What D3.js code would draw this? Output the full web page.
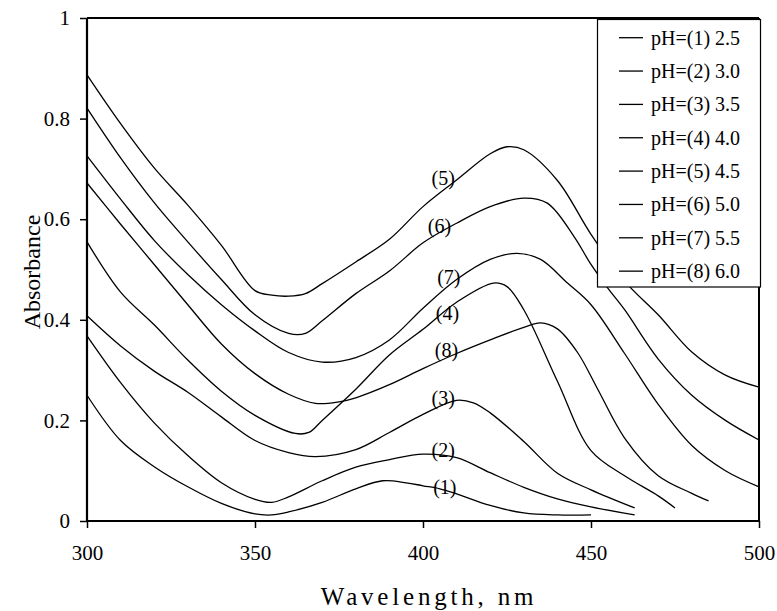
<!DOCTYPE html>
<html><head><meta charset="utf-8">
<script src="https://cdn.jsdelivr.net/npm/d3@7"></script>
<style>body{margin:0;background:#fff}svg{display:block}</style>
</head><body><svg id="c" width="777" height="611"></svg>
<script>
// ---- data ----
const seriesNames = ["pH=(1) 2.5","pH=(2) 3.0","pH=(3) 3.5","pH=(4) 4.0","pH=(5) 4.5","pH=(6) 5.0","pH=(7) 5.5","pH=(8) 6.0"];
const curveTags = ["(1)","(2)","(3)","(4)","(5)","(6)","(7)","(8)"];

const wl1 = [300,310,320,330,340,350,355,360,370,380,388,395,400,405,410,420,430,440,450];
const ab1 = [0.25,0.16,0.108,0.068,0.035,0.014,0.012,0.018,0.037,0.064,0.08,0.076,0.07,0.064,0.054,0.031,0.016,0.012,0.012];

const wl2 = [300,310,320,330,340,350,355,360,370,380,390,400,410,420,430,440,450,463];
const ab2 = [0.368,0.275,0.195,0.13,0.076,0.043,0.037,0.048,0.08,0.107,0.122,0.133,0.126,0.096,0.067,0.044,0.028,0.012];

const wl3 = [300,310,320,330,340,350,360,368,380,390,400,410,415,420,430,440,450,463];
const ab3 = [0.408,0.348,0.298,0.256,0.207,0.16,0.136,0.128,0.142,0.176,0.212,0.24,0.235,0.215,0.158,0.095,0.062,0.026];

const wl4 = [300,310,320,330,340,350,362,366,370,380,390,400,410,421,425,430,440,450,460,470,475];
const ab4 = [0.555,0.455,0.39,0.32,0.258,0.21,0.174,0.176,0.2,0.262,0.33,0.381,0.435,0.473,0.466,0.42,0.278,0.14,0.09,0.05,0.026];

const wl5 = [300,310,320,330,340,350,355,360,365,370,380,390,400,410,420,425,430,440,450,460,470,480,490,500];
const ab5 = [0.887,0.79,0.702,0.628,0.548,0.458,0.449,0.447,0.452,0.472,0.515,0.56,0.625,0.678,0.73,0.744,0.738,0.677,0.57,0.477,0.41,0.336,0.29,0.266];

const wl6 = [300,310,320,330,340,350,360,365,370,380,390,400,410,420,430,437,445,450,455,460,470,480,490,500];
const ab6 = [0.821,0.722,0.633,0.555,0.48,0.41,0.373,0.373,0.398,0.452,0.497,0.553,0.592,0.625,0.642,0.632,0.565,0.51,0.463,0.42,0.322,0.25,0.2,0.161];

const wl7 = [300,310,320,330,340,350,360,370,380,390,400,410,420,428,435,443,450,460,470,480,490,500];
const ab7 = [0.726,0.64,0.558,0.49,0.43,0.378,0.335,0.316,0.325,0.36,0.423,0.48,0.52,0.532,0.52,0.473,0.43,0.333,0.232,0.15,0.1,0.068];

const wl8 = [300,310,320,330,340,350,360,368,375,380,390,400,410,420,430,435,440,446,452,460,470,480,485];
const ab8 = [0.672,0.59,0.51,0.43,0.352,0.293,0.252,0.234,0.237,0.245,0.271,0.303,0.333,0.36,0.385,0.394,0.382,0.335,0.262,0.165,0.09,0.055,0.04];

// curve tag anchors (wavelength, absorbance)
const tagWl  = [406.5,406,406,407.3,406,404.9,407.7,407];
const tagAbs = [0.068,0.141,0.244,0.413,0.681,0.586,0.486,0.34];

const xTicks = [300,350,400,450,500];
const yTicks = [0,0.2,0.4,0.6,0.8,1];
const yTickLabels = ["0","0.2","0.4","0.6","0.8","1"];

const wls = [wl1,wl2,wl3,wl4,wl5,wl6,wl7,wl8];
const abs = [ab1,ab2,ab3,ab4,ab5,ab6,ab7,ab8];

// ---- drawing ----
const FONT = "Liberation Serif, Times New Roman, serif";
const svg = d3.select("#c");
const L = 87, R = 759, T = 18, B = 521;
const x = d3.scaleLinear().domain([300,500]).range([L,R]);
const y = d3.scaleLinear().domain([0,1]).range([B,T]);

const line = d3.line().x(d=>x(d[0])).y(d=>y(d[1])).curve(d3.curveCatmullRom.alpha(0.5));

const gC = svg.append("g");
wls.forEach((w,i)=>{
  gC.append("path")
    .attr("d", line(w.map((v,j)=>[v,abs[i][j]])))
    .attr("fill","none").attr("stroke","#000").attr("stroke-width",1.3);
});

// frame
svg.append("line").attr("x1",L).attr("x2",R).attr("y1",T).attr("y2",T).attr("stroke","#000").attr("stroke-width",2);
svg.append("line").attr("x1",R).attr("x2",R).attr("y1",T).attr("y2",B).attr("stroke","#000").attr("stroke-width",2);

// axes
const xAxis = d3.axisBottom(x).tickValues(xTicks).tickSize(7).tickPadding(17).tickFormat(d3.format("d"));
const gx = svg.append("g").attr("transform",`translate(0,${B})`).call(xAxis);
const yAxis = d3.axisLeft(y).tickValues(yTicks).tickSize(7).tickPadding(10).tickFormat((d,i)=>yTickLabels[i]);
const gy = svg.append("g").attr("transform",`translate(${L},0)`).call(yAxis);
[gx,gy].forEach(g=>{
  g.attr("font-family",FONT);
  g.select(".domain").attr("stroke-width",2.2).attr("stroke","#000");
  g.selectAll(".tick line").attr("stroke-width",1.5).attr("stroke","#000");
  g.selectAll(".tick text").attr("font-family",FONT).attr("font-size",21).attr("fill","#000");
});
gy.select(".domain").attr("d",`M0,${B}V${T}`);
gx.select(".domain").attr("d",`M${L},0H${R}`);

// axis titles
svg.append("text").attr("transform","translate(40,272) rotate(-90)")
  .attr("text-anchor","middle").attr("font-family",FONT).attr("font-size",24).text("Absorbance");
svg.append("text").attr("x",(L+R)/2+6).attr("y",605)
  .attr("text-anchor","middle").attr("font-family",FONT).attr("font-size",25)
  .attr("letter-spacing","3.8px").text("Wavelength, nm");

// curve tags
curveTags.forEach((t,i)=>{
  svg.append("text").attr("x",x(tagWl[i])).attr("y",y(tagAbs[i])).attr("dy","0.35em")
    .attr("text-anchor","middle").attr("font-family",FONT).attr("font-size",20).text(t);
});

// legend
const lg = svg.append("g");
lg.append("rect").attr("x",597.5).attr("y",19.5).attr("width",163).attr("height",267.5)
  .attr("fill","#fff").attr("stroke","#000").attr("stroke-width",1.2);
seriesNames.forEach((n,i)=>{
  const yy = 37.7 + i*33.35;
  lg.append("line").attr("x1",619).attr("x2",643).attr("y1",yy).attr("y2",yy).attr("stroke","#000").attr("stroke-width",1.3);
  lg.append("text").attr("x",651).attr("y",yy+7).attr("font-family",FONT).attr("font-size",20).text(n);
});
</script></body></html>
